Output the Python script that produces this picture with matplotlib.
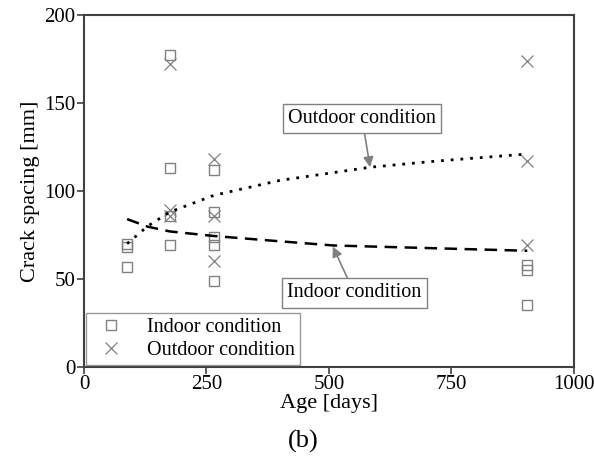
import numpy as np
import matplotlib
matplotlib.use("Agg")
import matplotlib.pyplot as plt

plt.rcParams['font.family'] = ['Liberation Serif', 'DejaVu Serif']

# measured crack spacing, indoor specimens
indoor_age = [88, 88, 88, 176, 176, 176, 176, 265, 265, 265, 265, 265, 905, 905, 905]
indoor_spacing = [57, 68, 70, 177, 113, 86, 69, 112, 88, 74, 69, 49, 58, 55, 35]

# measured crack spacing, outdoor specimens
outdoor_age = [176, 176, 176, 265, 265, 265, 905, 905, 905]
outdoor_spacing = [172, 89, 86, 118, 86, 60, 174, 117, 69]

# trend curves
outdoor_fit_age = [88, 130, 175, 265, 400, 585, 720, 905]
outdoor_fit = [70, 80, 88, 97.5, 106, 113.5, 117, 121]
indoor_fit_age = [88, 130, 175, 265, 390, 510, 720, 905]
indoor_fit = [84, 79.7, 77, 74.4, 71.6, 69, 67.4, 66]

gray = '#808080'

fig = plt.figure(figsize=(5.94, 4.65), dpi=100)
ax = fig.add_axes([0.1414, 0.211, 0.8246, 0.7567])

ax.plot(indoor_age, indoor_spacing, ls='none', marker='s', ms=6.5, mfc='none',
        mec=gray, mew=1.0, label='Indoor condition')
ax.plot(outdoor_age, outdoor_spacing, ls='none', marker='x', ms=8, mec=gray,
        mew=0.9, label='Outdoor condition')

ax.plot(outdoor_fit_age, outdoor_fit, color='black', lw=2, ls=(0, (1, 2.5)))
ax.plot(indoor_fit_age, indoor_fit, color='black', lw=1.8, ls=(0, (5, 3)))

box = dict(boxstyle='square,pad=0.25', fc='white', ec=gray, lw=1)
arrow = dict(arrowstyle='-|>', color=gray, lw=1.2, mutation_scale=15, shrinkA=0, shrinkB=0)
ax.annotate('Outdoor condition', xy=(584, 113.5), xytext=(568, 141),
            ha='center', va='center', fontsize=14.5, bbox=box, arrowprops=arrow)
ax.annotate('Indoor condition', xy=(508, 68.4), xytext=(552, 42),
            ha='center', va='center', fontsize=14.5, bbox=box, arrowprops=arrow)

ax.set_xlim(0, 1000)
ax.set_ylim(0, 200)
ax.set_xticks([0, 250, 500, 750, 1000])
ax.set_yticks([0, 50, 100, 150, 200])
ax.tick_params(direction='out', length=5, width=1.2, color='#404040', labelsize=15, pad=1)
for s in ax.spines.values():
    s.set_color('#404040')
    s.set_linewidth(1.5)

ax.set_xlabel('Age [days]', fontsize=16, labelpad=0)
ax.set_ylabel('Crack spacing [mm]', fontsize=16, labelpad=3)

leg = ax.legend(loc='lower left', fontsize=14.5, frameon=True, fancybox=False,
                borderaxespad=0.1, handletextpad=0.8, borderpad=0.25, labelspacing=0.2)
leg.get_frame().set_edgecolor(gray)
leg.get_frame().set_linewidth(1)

fig.text(0.51, 0.05, '(b)', ha='center', va='center', fontsize=19)

fig.savefig('out.png', dpi=100)
